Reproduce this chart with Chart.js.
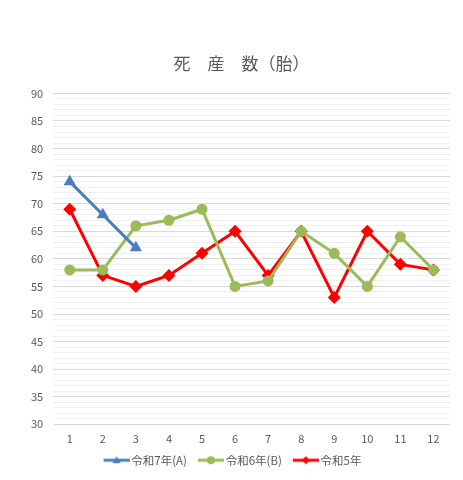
<!DOCTYPE html>
<html>
<head>
<meta charset="utf-8">
<script src="https://cdn.jsdelivr.net/npm/chart.js@4"></script>
<style>
  html, body { margin: 0; padding: 0; background: #fff; }
  #wrap { width: 463px; height: 480px; }
</style>
</head>
<body>
<div id="wrap"><canvas id="deathChart" width="463" height="480"></canvas></div>
<script>
// データ
var months = ['1', '2', '3', '4', '5', '6', '7', '8', '9', '10', '11', '12'];
var seriesNames = ['令和7年(A)', '令和6年(B)', '令和5年'];
var r7Values = [74, 68, 62];
var r6Values = [58, 58, 66, 67, 69, 55, 56, 65, 61, 55, 64, 58];
var r5Values = [69, 57, 55, 57, 61, 65, 57, 65, 53, 65, 59, 58];
var yMin = 30;
var yMax = 90;

var FONT = "'Noto Sans CJK JP', 'Noto Sans', sans-serif";
var colors = ['#4A7EBB', '#9BBB59', '#FF0000'];
var styles = ['triangle', 'circle', 'rectRot'];
var radii = [7, 5.5, 6.5];
var GAP = 10;      // 凡例項目の間隔（アイコン左の余白で作る）
var ICON_W = 22;   // pointStyleWidth の線部分
var OVER = 4;      // 画像が箱からはみ出す量

// 凡例用の小さなアイコン（線＋マーカー）
function legendIcon(color, style) {
    var c = document.createElement('canvas');
    c.width = GAP + ICON_W + OVER * 2; c.height = 12;
    var g = c.getContext('2d');
    var x0 = OVER + GAP, x1 = c.width, mx = (x0 + x1) / 2;
    g.strokeStyle = color;
    g.lineWidth = 3;
    g.beginPath(); g.moveTo(x0, 6); g.lineTo(x1, 6); g.stroke();
    g.fillStyle = color;
    g.beginPath();
    if (style === 'triangle') {
        g.moveTo(mx, 2); g.lineTo(mx + 4, 9); g.lineTo(mx - 4, 9);
    } else if (style === 'circle') {
        g.arc(mx, 6, 4, 0, Math.PI * 2);
    } else {
        g.moveTo(mx, 2); g.lineTo(mx + 4, 6); g.lineTo(mx, 10); g.lineTo(mx - 4, 6);
    }
    g.closePath(); g.fill();
    return c;
}

function makeDataset(i, values) {
    return {
        label: seriesNames[i],
        data: values,
        borderColor: colors[i],
        backgroundColor: colors[i],
        borderWidth: 3,
        pointStyle: styles[i],
        pointRadius: radii[i],
        pointHoverRadius: radii[i],
        pointBorderWidth: 0,
        tension: 0
    };
}

// 凡例を少し左へずらす（アイコン左の余白ぶん）
var legendNudge = {
    id: 'legendNudge',
    afterLayout: function (chart) {
        chart.legend.left -= 8;
        chart.legend.right -= 8;
    }
};

var ctx = document.getElementById('deathChart').getContext('2d');
var deathChart = new Chart(ctx, {
    type: 'line',
    data: {
        labels: months,
        datasets: [makeDataset(0, r7Values), makeDataset(1, r6Values), makeDataset(2, r5Values)]
    },
    plugins: [legendNudge],
    options: {
        responsive: false,
        animation: false,
        layout: { padding: { left: 21, right: 13, top: 53, bottom: 4 } },
        plugins: {
            title: {
                display: true,
                text: '\u2002\u2009死　産　数（胎）',
                color: '#595959',
                font: { family: FONT, size: 17, weight: 'normal' },
                padding: { top: 0, bottom: 20 }
            },
            legend: {
                position: 'bottom',
                labels: {
                    usePointStyle: true,
                    pointStyleWidth: GAP + ICON_W,
                    color: '#595959',
                    font: { family: FONT, size: 11.5 },
                    padding: 1,
                    generateLabels: function (chart) {
                        return chart.data.datasets.map(function (ds, i) {
                            return {
                                text: ds.label,
                                pointStyle: legendIcon(colors[i], styles[i]),
                                fillStyle: colors[i],
                                strokeStyle: colors[i],
                                fontColor: '#595959',
                                lineWidth: 0,
                                hidden: false,
                                datasetIndex: i
                            };
                        });
                    }
                }
            },
            tooltip: { enabled: false }
        },
        scales: {
            x: {
                offset: true,
                grid: { display: false, drawTicks: false },
                border: { display: false },
                ticks: { color: '#595959', font: { family: FONT, size: 11 }, padding: 8 }
            },
            y: {
                min: yMin,
                max: yMax,
                border: { display: false },
                grid: {
                    drawTicks: false,
                    color: function (c) {
                        return c.tick && c.tick.value % 5 === 0 ? '#D9D9D9' : '#F0F0F0';
                    },
                    lineWidth: 1
                },
                ticks: {
                    stepSize: 1,
                    autoSkip: false,
                    color: '#595959',
                    font: { family: FONT, size: 11 },
                    padding: 10,
                    callback: function (v) { return v % 5 === 0 ? v : ''; }
                }
            }
        }
    }
});
</script>
</body>
</html>
